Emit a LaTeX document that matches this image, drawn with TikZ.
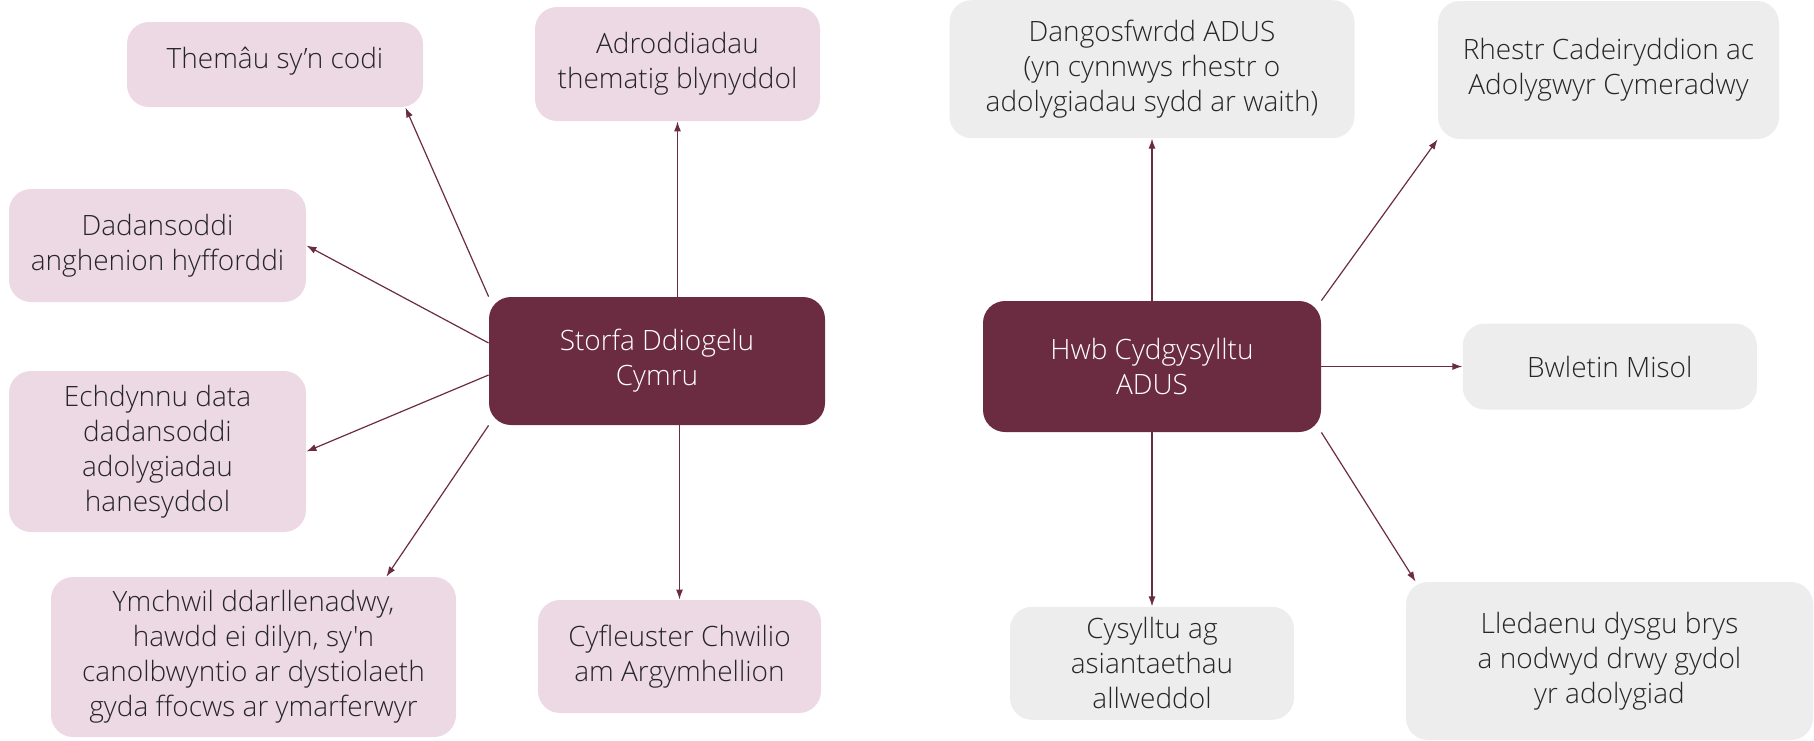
\documentclass[tikz,border=0pt]{standalone}
\usepackage{fontspec}
\setmainfont{Open Sans Light}[Ligatures=TeXOff]
\usetikzlibrary{arrows.meta,positioning}
\definecolor{gwin}{RGB}{107,44,65}
\definecolor{pinc}{RGB}{237,217,228}
\definecolor{llwyd}{RGB}{237,237,237}
\begin{document}
\begin{tikzpicture} [x=0.5pt, y=-0.5pt, >={Latex[length=5pt,width=3.5pt]}]
	\tikzset{box/.style={rounded corners=11pt, align=center, inner sep=0pt, text=black!85,
		font=\fontsize{14}{17.5}\selectfont}}
	\tikzset{hub/.style={box, fill=gwin, text=white}}
	\tikzset{pinkbox/.style={box, fill=pinc}}
	\tikzset{greybox/.style={box, fill=llwyd}}
	\tikzset{link/.style={->, draw=gwin, line width=0.6pt}}
	\useasboundingbox (0,0) rectangle (1814,740);

	% Storfa Ddiogelu
	\node[hub, minimum width=168pt, minimum height=64pt]		(storfa)	at (657,361)	{Storfa Ddiogelu\\Cymru};
	\node[pinkbox, minimum width=148pt, minimum height=42.5pt, text depth=7pt]	(themau)	at (275,64.5)	{Themâu sy’n codi};
	\node[pinkbox, minimum width=142.5pt, minimum height=57pt]	(adrodd)	at (677.5,64)	{Adroddiadau\\thematig blynyddol};
	\node[pinkbox, minimum width=148.5pt, minimum height=56.5pt]	(dadans)	at (157.5,245.5)	{Dadansoddi\\anghenion hyfforddi};
	\node[pinkbox, minimum width=148.5pt, minimum height=80.5pt]	(echdyn)	at (157.5,451.5)	{Echdynnu data\\dadansoddi\\adolygiadau\\hanesyddol};
	\node[pinkbox, minimum width=202.5pt, minimum height=80pt]	(ymchwil)	at (253.5,657)	{Ymchwil ddarllenadwy,\\hawdd ei dilyn, sy'n\\canolbwyntio ar dystiolaeth\\gyda ffocws ar ymarferwyr};
	\node[pinkbox, minimum width=141.5pt, minimum height=56.5pt]	(cyfleu)	at (679.5,656.5)	{Cyfleuster Chwilio\\am Argymhellion};

	% Hwb Cydgysylltu
	\node[hub, minimum width=169pt, minimum height=65.5pt]		(hwb)		at (1152,366.5)	{Hwb Cydgysylltu\\ADUS};
	\node[greybox, minimum width=202.5pt, minimum height=69pt]	(dangos)	[above=81pt of hwb]	{Dangosfwrdd ADUS\\(yn cynnwys rhestr o\\adolygiadau sydd ar waith)};
	\node[greybox, minimum width=170.5pt, minimum height=69pt]	(rhestr)	at (1608.5,70)	{Rhestr Cadeiryddion ac\\Adolygwyr Cymeradwy};
	\node[greybox, minimum width=147pt, minimum height=43pt]	(bwletin)	[right=70.5pt of hwb]	{Bwletin Misol};
	\node[greybox, minimum width=142pt, minimum height=56.5pt]	(cysyll)	[below=87pt of hwb]	{Cysylltu ag\\asiantaethau\\allweddol};
	\node[greybox, minimum width=203.5pt, minimum height=79pt]	(lledaen)	at (1609.5,661)	{Lledaenu dysgu brys\\a nodwyd drwy gydol\\yr adolygiad};

	\path
		(storfa.north west)				edge[link]	([xshift=-9pt]themau.south east)
		(adrodd.south |- storfa.north)			edge[link]	(adrodd.south)
		([yshift=9pt]storfa.west)			edge[link]	(dadans.east)
		([yshift=-7pt]storfa.west)			edge[link]	(echdyn.east)
		(storfa.south west)				edge[link]	([xshift=-35pt]ymchwil.north east)
		(cyfleu.north |- storfa.south)			edge[link]	(cyfleu.north)
		(hwb.north)					edge[link]	(hwb.north |- dangos.south)
		(hwb.north east)				edge[link]	(rhestr.south west)
		(hwb.east)					edge[link]	(bwletin.west)
		(hwb.south)					edge[link]	(cysyll.north)
		(hwb.south east)				edge[link]	([xshift=5pt]lledaen.north west)
		;
\end{tikzpicture}
\end{document}
